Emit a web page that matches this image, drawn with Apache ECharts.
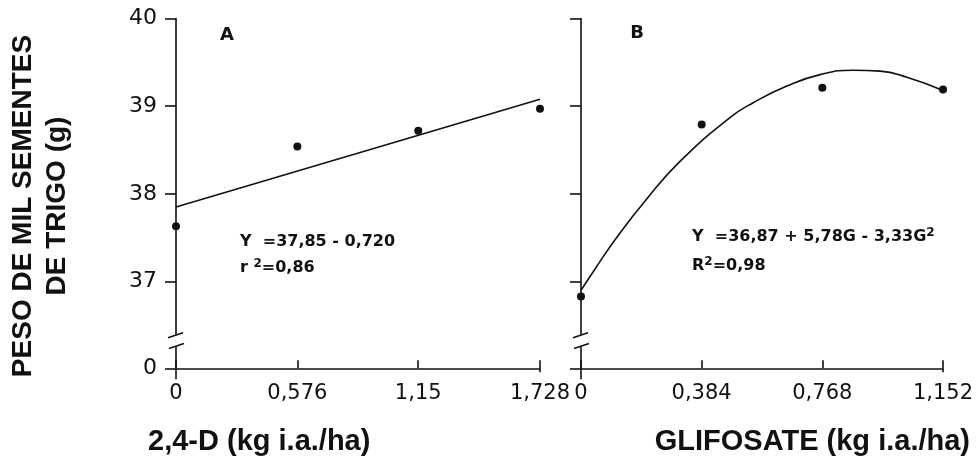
<!DOCTYPE html>
<html>
<head>
<meta charset="utf-8">
<script src="https://cdn.jsdelivr.net/npm/echarts@6/dist/echarts.min.js"></script>
<style>html,body{margin:0;padding:0;background:#fff}#c{width:976px;height:460px}</style>
</head>
<body>
<div id="c"></div>
<script>
// ---- data ----
const doseA = [0, 0.576, 1.15, 1.728];            // 2,4-D (kg i.a./ha)
const weightA = [37.63, 38.54, 38.72, 38.97];     // peso de mil sementes (g)
const fitAx = [0, 1.728];
const fitAy = [37.85, 39.08];

const doseB = [0, 0.384, 0.768, 1.152];           // glifosate (kg i.a./ha)
const weightB = [36.83, 38.79, 39.21, 39.19];
const fitBx = [0, 0.042, 0.117, 0.204, 0.315, 0.474, 0.548, 0.655, 0.761, 0.867, 0.952, 1.037, 1.152];
const fitBy = [36.90, 37.13, 37.52, 37.92, 38.37, 38.87, 39.04, 39.23, 39.36, 39.41, 39.40, 39.33, 39.18];

const yTicks = [37, 38, 39, 40];
const yBaseTicks = [0];
const xTicksA = [0, 0.576, 1.15, 1.728];
const xTicksB = [0, 0.384, 0.768, 1.152];

const yTitle = 'PESO DE MIL SEMENTES\nDE TRIGO (g)';
const xTitleA = '2,4-D (kg i.a./ha)';
const xTitleB = 'GLIFOSATE (kg i.a./ha)';

// ---- layout ----
const INK = '#111';
const TOP = 18.5, UPH = 315.7, LOWTOP = 347, LOWH = 21.3;
const AX = 176, AW = 364, BX = 581, BW = 362;
const fmt = v => String(v).replace('.', ',');

const pairs = (xs, ys) => xs.map((x, i) => [x, ys[i]]);

function upperY(showLabels) {
  return {
    type: 'value', min: 36.4, max: 40,
    axisLine: {show: true, lineStyle: {color: INK, width: 1.6}},
    axisTick: {show: true, customValues: yTicks, length: 11, inside: false, lineStyle: {color: INK, width: 1.6}},
    axisLabel: {show: showLabels, customValues: yTicks, color: INK, fontFamily: 'DejaVu Sans', fontSize: 22, margin: 19},
    splitLine: {show: false}
  };
}
function lowerY(showLabels) {
  return {
    type: 'value', min: 0, max: 1,
    axisLine: {show: true, lineStyle: {color: INK, width: 1.6}},
    axisTick: {show: true, customValues: yBaseTicks, length: 11, lineStyle: {color: INK, width: 1.6}},
    axisLabel: {show: showLabels, customValues: yBaseTicks, color: INK, fontFamily: 'DejaVu Sans', fontSize: 22, margin: 19},
    splitLine: {show: false}
  };
}
function hiddenX(max) {
  return {type: 'value', min: 0, max: max, show: false, splitLine: {show: false}};
}
function lowerX(max, ticks) {
  return {
    type: 'value', min: 0, max: max,
    axisLine: {show: true, onZero: false, lineStyle: {color: INK, width: 1.6}},
    axisTick: {show: true, customValues: ticks, inside: true, length: 8, lineStyle: {color: INK, width: 1.6}},
    axisLabel: {customValues: ticks, formatter: fmt, color: INK, fontFamily: 'DejaVu Sans', fontSize: 21, margin: 15},
    splitLine: {show: false}
  };
}

const breakMarks = [];
[AX, BX].forEach(x => {
  breakMarks.push({type: 'line', shape: {x1: x - 8, y1: TOP + UPH + 3.5, x2: x + 7, y2: TOP + UPH - 1.5}, style: {stroke: INK, lineWidth: 1.6}});
  breakMarks.push({type: 'line', shape: {x1: x - 7, y1: LOWTOP + 1.5, x2: x + 8, y2: LOWTOP - 3.5}, style: {stroke: INK, lineWidth: 1.6}});
  breakMarks.push({type: 'line', shape: {x1: x, y1: LOWTOP + LOWH, x2: x, y2: LOWTOP + LOWH + 11}, style: {stroke: INK, lineWidth: 1.6}});
});
breakMarks.push({type: 'line', shape: {x1: AX + AW, y1: LOWTOP + LOWH, x2: AX + AW, y2: LOWTOP + LOWH + 4}, style: {stroke: INK, lineWidth: 1.6}});
breakMarks.push({type: 'line', shape: {x1: BX + BW, y1: LOWTOP + LOWH, x2: BX + BW, y2: LOWTOP + LOWH + 4}, style: {stroke: INK, lineWidth: 1.6}});

const eqStyle = {
  fill: INK, fontFamily: 'DejaVu Sans', fontWeight: 'bold', fontSize: 16,
  rich: {sup: {fontSize: 12, fontWeight: 'bold', fontFamily: 'DejaVu Sans', fill: INK, verticalAlign: 'top', padding: [0, 0, 8, 0]}}
};

const chart = echarts.init(document.getElementById('c'), null, {renderer: 'canvas'});
chart.setOption({
  animation: false,
  backgroundColor: '#fff',
  grid: [
    {left: AX, top: TOP, width: AW, height: UPH},
    {left: AX, top: LOWTOP, width: AW, height: LOWH},
    {left: BX, top: TOP, width: BW, height: UPH},
    {left: BX, top: LOWTOP, width: BW, height: LOWH}
  ],
  xAxis: [
    Object.assign(hiddenX(1.728), {gridIndex: 0}),
    Object.assign(lowerX(1.728, xTicksA), {gridIndex: 1}),
    Object.assign(hiddenX(1.152), {gridIndex: 2}),
    Object.assign(lowerX(1.152, xTicksB), {gridIndex: 3})
  ],
  yAxis: [
    Object.assign(upperY(true), {gridIndex: 0}),
    Object.assign(lowerY(true), {gridIndex: 1}),
    Object.assign(upperY(false), {gridIndex: 2}),
    Object.assign(lowerY(false), {gridIndex: 3})
  ],
  series: [
    {type: 'line', xAxisIndex: 0, yAxisIndex: 0, data: pairs(fitAx, fitAy), showSymbol: false, lineStyle: {color: INK, width: 1.6}},
    {type: 'scatter', xAxisIndex: 0, yAxisIndex: 0, data: pairs(doseA, weightA), symbolSize: 8, itemStyle: {color: INK, opacity: 1}},
    {type: 'line', xAxisIndex: 2, yAxisIndex: 2, data: pairs(fitBx, fitBy), smooth: 0.5, showSymbol: false, lineStyle: {color: INK, width: 1.6}},
    {type: 'scatter', xAxisIndex: 2, yAxisIndex: 2, data: pairs(doseB, weightB), symbolSize: 8, itemStyle: {color: INK, opacity: 1}}
  ],
  graphic: breakMarks.concat([
    {type: 'text', x: 40, y: 206, rotation: Math.PI / 2,
     style: {text: yTitle, fill: INK, fontFamily: 'Liberation Sans', fontWeight: 'bold', fontSize: 28, lineHeight: 34, align: 'center', verticalAlign: 'middle'}},
    {type: 'text', x: 148, y: 442,
     style: {text: xTitleA, fill: INK, fontFamily: 'Liberation Sans', fontWeight: 'bold', fontSize: 29, align: 'left', verticalAlign: 'middle'}},
    {type: 'text', x: 970, y: 442,
     style: {text: xTitleB, fill: INK, fontFamily: 'Liberation Sans', fontWeight: 'bold', fontSize: 29, align: 'right', verticalAlign: 'middle'}},
    {type: 'text', x: 227, y: 35, style: {text: 'A', fill: INK, fontFamily: 'DejaVu Sans', fontSize: 18, fontWeight: 'bold', align: 'center', verticalAlign: 'middle'}},
    {type: 'text', x: 637, y: 33, style: {text: 'B', fill: INK, fontFamily: 'DejaVu Sans', fontSize: 18, fontWeight: 'bold', align: 'center', verticalAlign: 'middle'}},
    {type: 'text', x: 240, y: 242, style: Object.assign({text: 'Y  =37,85 - 0,720', align: 'left', verticalAlign: 'middle'}, eqStyle)},
    {type: 'text', x: 240, y: 268, style: Object.assign({text: 'r {sup|2}=0,86', align: 'left', verticalAlign: 'middle'}, eqStyle)},
    {type: 'text', x: 692, y: 237, style: Object.assign({text: 'Y  =36,87 + 5,78G - 3,33G{sup|2}', align: 'left', verticalAlign: 'middle'}, eqStyle)},
    {type: 'text', x: 692, y: 266, style: Object.assign({text: 'R{sup|2}=0,98', align: 'left', verticalAlign: 'middle'}, eqStyle)}
  ])
});
</script>
</body>
</html>
